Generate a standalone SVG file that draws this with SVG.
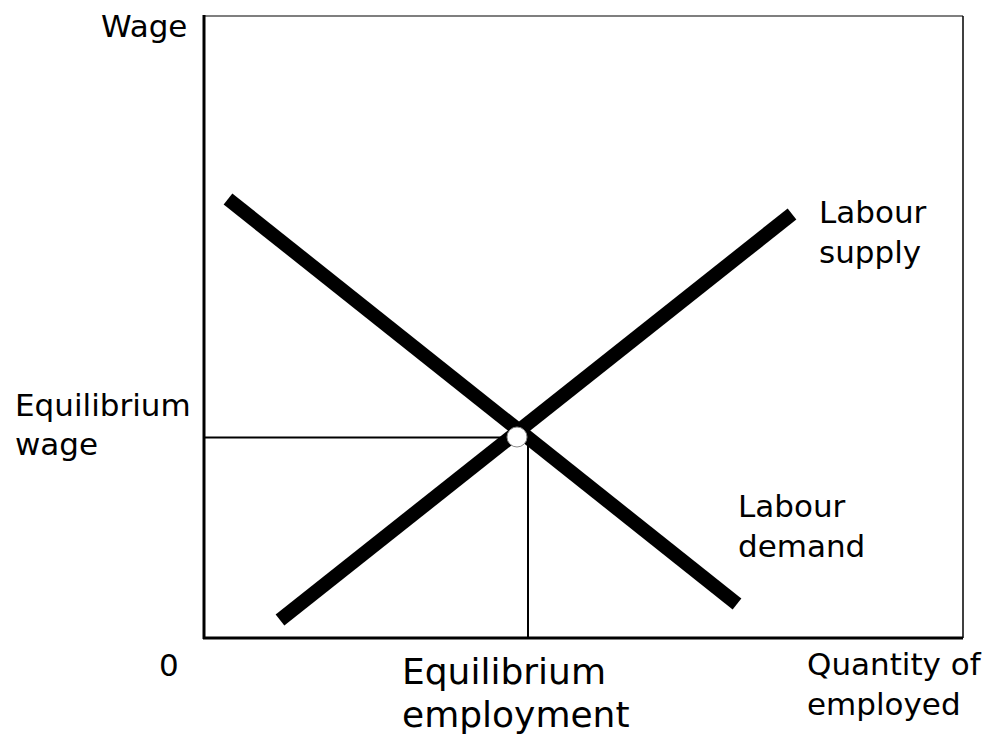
<svg xmlns="http://www.w3.org/2000/svg" width="999" height="745" viewBox="0 0 999 745">
<style>
text{font-family:"DejaVu Sans","Noto Sans",sans-serif;fill:#000;font-size:31px}
.big{font-size:36px}
.curve{stroke:#000;stroke-width:14;fill:none}
.thin{stroke:#000;stroke-width:2;fill:none}
</style>
<rect width="999" height="745" fill="#fff"/>
<g id="axes">
<line x1="204" y1="16" x2="963" y2="16" stroke="#555" stroke-width="1.5"/>
<line x1="963" y1="16" x2="963" y2="638" stroke="#000" stroke-width="1.5"/>
<line x1="204" y1="15" x2="204" y2="639" stroke="#000" stroke-width="3"/>
<line x1="203" y1="638" x2="963" y2="638" stroke="#000" stroke-width="3"/>
</g>
<g id="connectors">
<line class="thin" x1="204" y1="437.5" x2="510" y2="437.5"/>
<line class="thin" x1="528" y1="445" x2="528" y2="638"/>
</g>
<g id="demand"><line class="curve" x1="228" y1="199" x2="737" y2="604"/></g>
<g id="supply"><line class="curve" x1="280" y1="620" x2="792" y2="214"/></g>
<g id="equilibrium"><circle cx="517" cy="437" r="10" fill="#fff" stroke="#888" stroke-width="1"/></g>
<g id="labels">
<text x="101" y="37">Wage</text>
<text x="819" y="223">Labour</text>
<text x="819" y="263">supply</text>
<text x="15" y="416">Equilibrium</text>
<text x="15" y="455">wage</text>
<text x="738" y="517">Labour</text>
<text x="738" y="557">demand</text>
<text x="159" y="676">0</text>
<text class="big" x="402" y="684">Equilibrium</text>
<text class="big" x="402" y="727">employment</text>
<text x="807" y="675">Quantity of</text>
<text x="807" y="715">employed</text>
</g>
</svg>
